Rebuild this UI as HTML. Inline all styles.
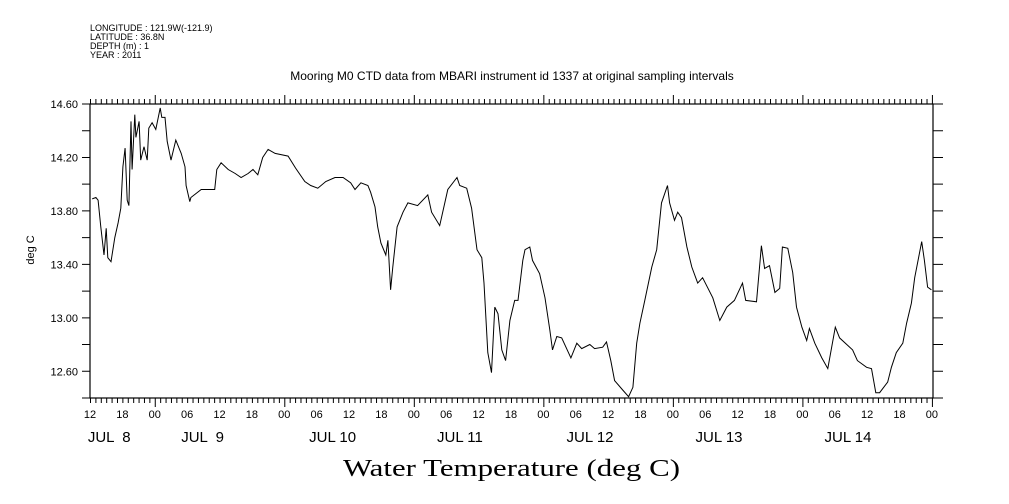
<!DOCTYPE html>
<html><head><meta charset="utf-8"><style>
html,body{margin:0;padding:0;background:#fff;}
svg{display:block;font-family:"Liberation Sans",sans-serif;}
</style></head><body>
<svg id="chart" width="1009" height="504" viewBox="0 0 1009 504" xmlns="http://www.w3.org/2000/svg">
<g font-size="9" fill="#000">
<text x="90" y="31">LONGITUDE : 121.9W(-121.9)</text>
<text x="90" y="40">LATITUDE : 36.8N</text>
<text x="90" y="49">DEPTH (m) : 1</text>
<text x="90" y="58">YEAR : 2011</text>
</g>
<text x="512" y="80" text-anchor="middle" font-size="12">Mooring M0 CTD data from MBARI instrument id 1337 at original sampling intervals</text>
<text transform="translate(34,250) rotate(-90)" text-anchor="middle" font-size="11">deg C</text>
<text x="343" y="476" font-family="Liberation Serif, serif" font-size="24" textLength="337" lengthAdjust="spacingAndGlyphs">Water Temperature (deg C)</text>
<g id="axes"></g>
<path id="series" fill="none" stroke="#000" stroke-width="1"/>
</svg>
<script>
const hours = [0.4,1.1,1.5,2.0,2.6,3.0,3.3,3.9,4.6,5.2,5.7,6.1,6.5,6.9,7.2,7.6,7.8,8.3,8.5,9.1,9.4,10.0,10.6,10.9,11.5,12.2,13.0,13.3,13.9,14.3,15.0,15.9,16.9,17.6,17.8,18.5,18.7,20.6,22.8,23.1,23.5,24.3,25.6,26.9,28.0,29.3,30.2,31.1,32.0,33.0,34.3,36.7,38.1,39.8,40.9,42.2,43.7,45.4,46.9,48.3,49.1,50.2,51.5,52.0,52.8,53.3,53.9,54.8,55.2,55.7,56.1,56.9,58.0,58.9,60.7,62.6,63.3,64.8,66.3,68.0,68.5,69.8,70.7,71.7,72.6,73.0,73.7,74.4,75.0,75.6,76.3,77.0,77.8,78.7,79.3,80.2,80.6,81.5,82.0,83.3,84.3,85.2,85.7,86.5,87.4,89.1,90.2,91.1,92.6,93.5,95.0,95.7,96.5,97.2,98.7,99.8,100.6,101.3,101.9,102.8,104.1,105.0,105.9,107.0,107.4,108.3,108.9,109.6,110.6,111.5,112.6,113.5,115.4,116.7,118.0,119.4,120.9,121.5,123.5,124.4,125.0,125.9,126.9,127.8,128.3,129.3,130.2,130.9,131.9,132.8,133.3,134.3,135.6,136.7,138.1,138.9,141.3,142.2,143.9,144.8,145.6,146.3,147.8,148.5,149.4,150.6,151.3,152.2,152.8,154.1,154.6,155.2,155.9];
const temps = [13.89,13.90,13.88,13.68,13.47,13.67,13.45,13.42,13.60,13.71,13.82,14.13,14.27,13.88,13.84,14.47,14.11,14.52,14.35,14.47,14.18,14.28,14.18,14.42,14.46,14.41,14.57,14.50,14.50,14.32,14.18,14.33,14.23,14.13,13.99,13.87,13.90,13.96,13.96,13.96,14.11,14.16,14.11,14.08,14.05,14.08,14.11,14.07,14.20,14.26,14.23,14.21,14.12,14.02,13.99,13.97,14.02,14.05,14.05,14.01,13.96,14.01,13.99,13.94,13.83,13.68,13.56,13.47,13.58,13.21,13.38,13.68,13.79,13.86,13.84,13.92,13.79,13.69,13.96,14.05,13.99,13.97,13.82,13.51,13.45,13.26,12.74,12.59,13.08,13.03,12.76,12.68,12.98,13.13,13.13,13.43,13.51,13.53,13.43,13.33,13.15,12.91,12.76,12.86,12.85,12.70,12.81,12.77,12.80,12.77,12.78,12.82,12.68,12.53,12.46,12.41,12.48,12.81,12.96,13.13,13.38,13.51,13.86,13.99,13.86,13.73,13.79,13.75,13.53,13.38,13.26,13.30,13.15,12.98,13.08,13.13,13.26,13.13,13.12,13.54,13.37,13.39,13.19,13.22,13.53,13.52,13.34,13.08,12.93,12.83,12.92,12.81,12.70,12.62,12.93,12.85,12.76,12.68,12.63,12.62,12.44,12.44,12.52,12.63,12.74,12.81,12.96,13.11,13.30,13.57,13.43,13.23,13.21];
const yTicks = [12.4,12.6,12.8,13.0,13.2,13.4,13.6,13.8,14.0,14.2,14.4,14.6];
const yLabels = ["12.60","13.00","13.40","13.80","14.20","14.60"];
const hourLabels = ["12","18","00","06","12","18","00","06","12","18","00","06","12","18","00","06","12","18","00","06","12","18","00","06","12","18","00"];
const dateLabels = ["JUL  8","JUL  9","JUL 10","JUL 11","JUL 12","JUL 13","JUL 14"];
const dateHours = [-0.4,16.9,40.6,64.3,88.3,112.2,136.1];

const L=90,R=933,T=104,B=398, H0=0,H1=156.2, V0=12.4,V1=14.6;
const X=h=>L+(h-H0)/(H1-H0)*(R-L);
const Y=v=>B-(v-V0)/(V1-V0)*(B-T);
const NS="http://www.w3.org/2000/svg";
const ax=document.getElementById('axes');
function mk(tag,attrs,parent){const e=document.createElementNS(NS,tag);for(const k in attrs)e.setAttribute(k,attrs[k]);(parent||ax).appendChild(e);return e;}
const frame=mk('rect',{x:L,y:T,width:R-L,height:B-T,fill:'none',stroke:'#000','stroke-width':1.2});


let d='';
for(let h=0;h<=156;h++){const x=X(h)+0.5;const major=(h%24===12);const len=major?9:5;
 d+=`M${x},${B}v${len}M${x},${T}v${-len}`;}
yTicks.forEach(v=>{const y=Y(v);d+=`M${L-8},${y}H${L}M${R},${y}h10`;});
const tk=mk('path',{d:d,stroke:'#000','stroke-width':1,fill:'none'});


yLabels.forEach(s=>{const t=mk('text',{x:L-12,y:Y(parseFloat(s))+4,'text-anchor':'end','font-size':11});t.textContent=s;
 
 });
hourLabels.forEach((s,i)=>{const t=mk('text',{x:X(i*6),y:418,'text-anchor':'middle','font-size':11});t.textContent=s;
 
 });
dateLabels.forEach((s,i)=>{const t=mk('text',{x:X(dateHours[i]),y:442,'font-size':15});t.setAttribute('style','white-space:pre');t.textContent=s;
 
 });
let p='';hours.forEach((h,i)=>{p+=(i?'L':'M')+X(h).toFixed(1)+','+Y(temps[i]).toFixed(1);});
document.getElementById('series').setAttribute('d',p);
</script>
</body></html>
